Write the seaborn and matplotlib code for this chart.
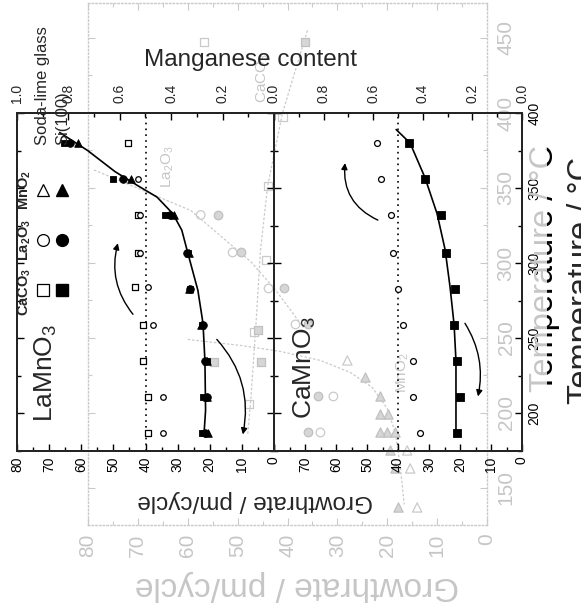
import matplotlib
matplotlib.use("Agg")
import matplotlib.pyplot as plt
import seaborn as sns
from matplotlib.lines import Line2D
from matplotlib.transforms import Bbox, TransformedBbox
from matplotlib.ticker import MultipleLocator, FuncFormatter

# ---------------- data ----------------
# LaMnO3 panel: growth rate (pm/cycle) on Si(100), filled symbols
la_T = [187, 211, 235, 259, 283, 307, 332, 356, 380]
la_gr_sq = [22.5, 22.0, 21.0, 22.4, 26.2, 26.8, 34.0, 50.0, 65.5]
la_gr_ci = [21.5, 21.0, 21.5, 22.0, 26.0, 27.0, 32.5, 47.0, 63.5]
la_gr_tr = [20.5, 20.8, 20.9, 22.6, 26.5, 26.5, 31.0, 44.5, 61.0]
# LaMnO3 panel: manganese content, open symbols
la_mn_sq_T = [187, 211, 235, 259, 284, 307, 332, 380]
la_mn_sq = [0.49, 0.49, 0.51, 0.51, 0.54, 0.53, 0.53, 0.57]
la_mn_ci_T = [187, 211, 259, 284, 307, 332, 356]
la_mn_ci = [0.43, 0.43, 0.47, 0.49, 0.52, 0.52, 0.53]
# LaMnO3 fitted curve
la_fit_T = [186, 202, 235, 260, 282, 309, 322, 333, 344, 352, 361, 375, 387]
la_fit_gr = [21.8, 21.3, 21.5, 22.1, 23.7, 27.1, 28.7, 31.5, 36.4, 42.7, 49.5, 58.0, 66.7]

# CaMnO3 panel
ca_T = [187, 211, 235, 259, 283, 307, 332, 356, 380]
ca_gr = [21.0, 20.0, 21.0, 21.9, 21.6, 24.5, 26.1, 31.3, 36.5]
ca_mn = [0.41, 0.44, 0.44, 0.48, 0.50, 0.52, 0.53, 0.57, 0.585]
ca_fit_T = [187, 235, 259, 284, 309, 333, 357, 380, 389]
ca_fit_gr = [21.3, 21.3, 21.9, 23.2, 24.8, 27.4, 31.3, 36.1, 40.6]

# faded background chart: binary oxides
caco3_open_T = [447, 397, 351, 302, 254, 206]
caco3_open_gr = [56.8, 41.0, 44.0, 44.4, 46.8, 47.8]
caco3_fill_T = [447, 255, 234, 234]
caco3_fill_gr = [36.4, 46.0, 45.4, 54.8]
caco3_fit_T = [455, 400, 351, 309, 255, 207, 185]
caco3_fit_gr = [36.0, 41.0, 44.0, 45.4, 46.4, 47.4, 48.0]

la2o3_T = [187, 211, 259, 283, 307, 332]
la2o3_open_gr = [33.4, 30.8, 38.4, 43.8, 51.0, 57.4]
la2o3_fill_gr = [35.8, 33.8, 35.8, 40.8, 49.4, 54.0]
la2o3_fit_T = [362, 335, 301, 282, 257]
la2o3_fit_gr = [78.8, 59.4, 47.4, 42.4, 36.8]

mno2_fill_T = [224, 211, 199, 199, 187, 187, 187, 175, 163, 137]
mno2_fill_gr = [24.4, 21.4, 19.8, 21.5, 20.0, 21.5, 18.5, 19.4, 18.4, 17.8]
mno2_open_T = [235, 175, 163, 137]
mno2_open_gr = [28.0, 16.0, 15.4, 14.0]
mno2_fit_T = [249, 245, 241, 235, 227, 217, 203, 187, 165, 139]
mno2_fit_gr = [60.0, 49.4, 41.4, 33.4, 27.4, 23.0, 20.0, 18.4, 17.4, 16.6]

gr_ticks_ghost = [0, 10, 20, 30, 40, 50, 60, 70, 80]
T_ticks_ghost = [150, 200, 250, 300, 350, 400, 450]

# ---------------- style ----------------
sns.set_style("ticks")
plt.rcParams["font.family"] = ["Liberation Sans", "DejaVu Sans"]
plt.rcParams["mathtext.fontset"] = "custom"
plt.rcParams["mathtext.rm"] = "Liberation Sans"
plt.rcParams["mathtext.it"] = "Liberation Sans:italic"
plt.rcParams["mathtext.bf"] = "Liberation Sans:bold"

W, H = 581, 612
GHOST = "#cacaca"
GHOST_TXT = "#c6c6c6"
GHOST_FILL = "#d6d6d6"
GHOST_EDGE = "#c0c0c0"


def rect(x0, y0, x1, y1):
    return [x0 / W, 1 - y1 / H, (x1 - x0) / W, (y1 - y0) / H]


def fx(x):
    return x / W


def fy(y):
    return 1 - y / H


fig = plt.figure(figsize=(W / 100, H / 100), dpi=100)

# ---------------- faded background chart ----------------
gax = fig.add_axes(rect(88, 3, 487, 525))
gax.set_facecolor("none")
gax.set_xlim(80, 0)
gax.set_ylim(125.3, 473.3)
for sp in gax.spines.values():
    sp.set_color(GHOST)
    sp.set_linestyle(":")
    sp.set_linewidth(1.0)
gax.set_xticks(gr_ticks_ghost)
gax.set_yticks(T_ticks_ghost)
gax.xaxis.set_minor_locator(MultipleLocator(5))
gax.yaxis.set_minor_locator(MultipleLocator(25))
gax.tick_params(which="both", direction="in", color=GHOST, top=True, right=True,
                left=True, bottom=True, labelleft=False, labelright=True,
                labelcolor=GHOST_TXT, labelsize=15, width=0.8)
gax.tick_params(which="major", length=5)
gax.tick_params(which="minor", length=3)
gax.tick_params(axis="x", labelrotation=90, pad=6)
gax.tick_params(axis="y", labelrotation=90, pad=7)
plt.setp(gax.get_yticklabels(), va="center")

for gr, T in [(caco3_fit_gr, caco3_fit_T), (la2o3_fit_gr, la2o3_fit_T), (mno2_fit_gr, mno2_fit_T)]:
    sns.lineplot(x=gr, y=T, sort=False, estimator=None, ax=gax, color=GHOST,
                 lw=0.9, linestyle=(0, (2, 1.5)))

gk = dict(ax=gax, linewidth=0.9, zorder=3, legend=False)
sns.scatterplot(x=caco3_open_gr, y=caco3_open_T, marker="s", s=34, color=GHOST,
                facecolor="none", edgecolor=GHOST, **gk)
sns.scatterplot(x=caco3_fill_gr, y=caco3_fill_T, marker="s", s=34, color=GHOST_FILL,
                edgecolor=GHOST_EDGE, **gk)
sns.scatterplot(x=la2o3_open_gr, y=la2o3_T, marker="o", s=38, color=GHOST,
                facecolor="none", edgecolor=GHOST, **gk)
sns.scatterplot(x=la2o3_fill_gr, y=la2o3_T, marker="o", s=38, color=GHOST_FILL,
                edgecolor=GHOST_EDGE, **gk)
sns.scatterplot(x=mno2_open_gr, y=mno2_open_T, marker="^", s=44, color=GHOST,
                facecolor="none", edgecolor=GHOST, **gk)
sns.scatterplot(x=mno2_fill_gr, y=mno2_fill_T, marker="^", s=44, color=GHOST_FILL,
                edgecolor=GHOST_EDGE, **gk)

gax.text(45, 423, "CaCO$_3$", rotation=90, ha="center", va="center", fontsize=11, color=GHOST_TXT)
gax.text(64, 364, "La$_2$O$_3$", rotation=90, ha="center", va="center", fontsize=11, color=GHOST_TXT)
gax.text(16.8, 227, "MnO$_2$", rotation=90, ha="center", va="center", fontsize=11, color=GHOST_TXT)

# ---------------- main panels ----------------
la_ax = fig.add_axes(rect(17, 113, 274, 451))
ca_ax = fig.add_axes(rect(274, 113, 522, 451))

for ax in (la_ax, ca_ax):
    ax.set_facecolor("none")
    ax.set_xlim(80, 0)
    ax.set_ylim(175, 400)
    for sp in ax.spines.values():
        sp.set_color("k")
        sp.set_linewidth(1.3)
    ax.xaxis.set_major_locator(MultipleLocator(10))
    ax.xaxis.set_minor_locator(MultipleLocator(5))
    ax.yaxis.set_major_locator(MultipleLocator(50))
    ax.yaxis.set_minor_locator(MultipleLocator(25))
    ax.tick_params(which="both", direction="in", color="k", width=1.0,
                   left=True, right=True, bottom=True, labelsize=10, labelcolor="k")
    ax.tick_params(which="major", length=5)
    ax.tick_params(which="minor", length=3)
    ax.tick_params(axis="x", labelrotation=90, pad=4)
    ax.axvline(40, color="k", ls=(0, (1, 2.5)), lw=1.2, zorder=1)

la_ax.tick_params(axis="y", labelleft=False, labelright=False)
ca_ax.tick_params(axis="y", labelleft=False, labelright=True, labelrotation=90, pad=4)
ca_ax.xaxis.set_major_formatter(FuncFormatter(lambda v, p: "" if v > 79 else f"{v:.0f}"))
plt.setp(ca_ax.get_yticklabels(), va="center")

la_top = la_ax.twiny()
ca_top = ca_ax.twiny()
for tax in (la_top, ca_top):
    tax.set_xlim(1, 0)
    tax.xaxis.set_major_locator(MultipleLocator(0.2))
    tax.xaxis.set_minor_locator(MultipleLocator(0.1))
    tax.tick_params(axis="x", which="both", direction="in", color="k", width=1.0,
                    labelsize=10, labelrotation=90, pad=7)
    tax.tick_params(which="major", length=5)
    tax.tick_params(which="minor", length=3)
    for sp in tax.spines.values():
        sp.set_linewidth(1.3)
la_top.xaxis.set_major_formatter(FuncFormatter(lambda v, p: f"{v:.1f}"))
ca_top.xaxis.set_major_formatter(FuncFormatter(lambda v, p: "" if v > 0.99 else f"{v:.1f}"))

# curves
sns.lineplot(x=la_fit_gr, y=la_fit_T, sort=False, estimator=None, ax=la_ax, color="k", lw=1.2)
sns.lineplot(x=ca_fit_gr, y=ca_fit_T, sort=False, estimator=None, ax=ca_ax, color="k", lw=1.2)

bk = dict(color="k", edgecolor="k", linewidth=0.6, zorder=4, legend=False)
sns.scatterplot(x=la_gr_tr, y=la_T, marker="^", s=30, ax=la_ax, **bk)
sns.scatterplot(x=la_gr_sq, y=la_T, marker="s", s=24, ax=la_ax, **bk)
sns.scatterplot(x=la_gr_ci, y=la_T, marker="o", s=30, ax=la_ax, **bk)
sns.scatterplot(x=ca_gr, y=ca_T, marker="s", s=26, ax=ca_ax, **bk)

ok = dict(color="k", facecolor="white", edgecolor="k", linewidth=0.9, zorder=4, legend=False)
sns.scatterplot(x=la_mn_sq, y=la_mn_sq_T, marker="s", s=14, ax=la_top, **ok)
sns.scatterplot(x=la_mn_ci, y=la_mn_ci_T, marker="o", s=16, ax=la_top, **ok)
sns.scatterplot(x=ca_mn, y=ca_T, marker="o", s=18, ax=ca_top, **ok)

# arrows pointing to the axis each data set belongs to
ap = dict(arrowstyle="-|>", color="k", lw=1.0, mutation_scale=9, shrinkA=0, shrinkB=0)
la_ax.annotate("", xy=(48.6, 313.3), xytext=(43.9, 266),
               arrowprops=dict(connectionstyle="arc3,rad=-0.25", **ap))
la_ax.annotate("", xy=(9.7, 186), xytext=(17.8, 249.3),
               arrowprops=dict(connectionstyle="arc3,rad=-0.25", **ap))
ca_ax.annotate("", xy=(57.1, 366.7), xytext=(46.5, 328.7),
               arrowprops=dict(connectionstyle="arc3,rad=-0.35", **ap))
ca_ax.annotate("", xy=(14.2, 211.3), xytext=(18.4, 260),
               arrowprops=dict(connectionstyle="arc3,rad=-0.2", **ap))

# ---------------- texts ----------------
fig.text(fx(250), fy(60), "Manganese content", ha="center", va="center", fontsize=17.5)
fig.text(fx(255), fy(501), "Growthrate / pm/cycle", rotation=180, ha="center", va="center", fontsize=17.5)
fig.text(fx(297), fy(585), "Growthrate / pm/cycle", rotation=180, ha="center", va="center",
         fontsize=24, color=GHOST_TXT)
fig.text(fx(545), fy(268), "Temperature / °C", rotation=90, ha="center", va="center",
         fontsize=23.5, color=GHOST_TXT)
t_dark = fig.text(fx(545), fy(268), "Temperature / °C", rotation=90, ha="center", va="center",
                  fontsize=23.5, color="k")
t_dark.set_clip_box(TransformedBbox(Bbox([[fx(547), 0], [1, 1]]), fig.transFigure))
t_dark.set_clip_on(True)
fig.text(fx(583), fy(280), "Temperature / °C", rotation=90, ha="center", va="center", fontsize=23.5)

fig.text(fx(46), fy(373), "LaMnO$_3$", rotation=90, ha="center", va="center", fontsize=19)
fig.text(fx(305), fy(368), "CaMnO$_3$", rotation=90, ha="center", va="center", fontsize=19)

# legend (rotated layout, drawn by hand)
for yy, lab in [(292, r"CaCO$_\mathbf{3}$"), (240, r"La$_\mathbf{2}$O$_\mathbf{3}$"), (190, r"MnO$_\mathbf{2}$")]:
    fig.text(fx(25), fy(yy), lab, rotation=90, ha="center", va="center", fontsize=10.5, fontweight="bold")
for yy, mk in [(290, "s"), (240, "o"), (190, "^")]:
    fig.add_artist(Line2D([fx(43)], [fy(yy)], transform=fig.transFigure, marker=mk, ms=8.5,
                          mfc="white", mec="k", mew=0.9, ls="none"))
    fig.add_artist(Line2D([fx(62)], [fy(yy)], transform=fig.transFigure, marker=mk, ms=8.5,
                          mfc="k", mec="k", ls="none"))
fig.text(fx(43), fy(145), "Soda-lime glass", rotation=90, ha="center", va="bottom", fontsize=12)
fig.text(fx(63), fy(145), "Si(100)", rotation=90, ha="center", va="bottom", fontsize=12)

fig.savefig("out.png", dpi=100, facecolor="white")
